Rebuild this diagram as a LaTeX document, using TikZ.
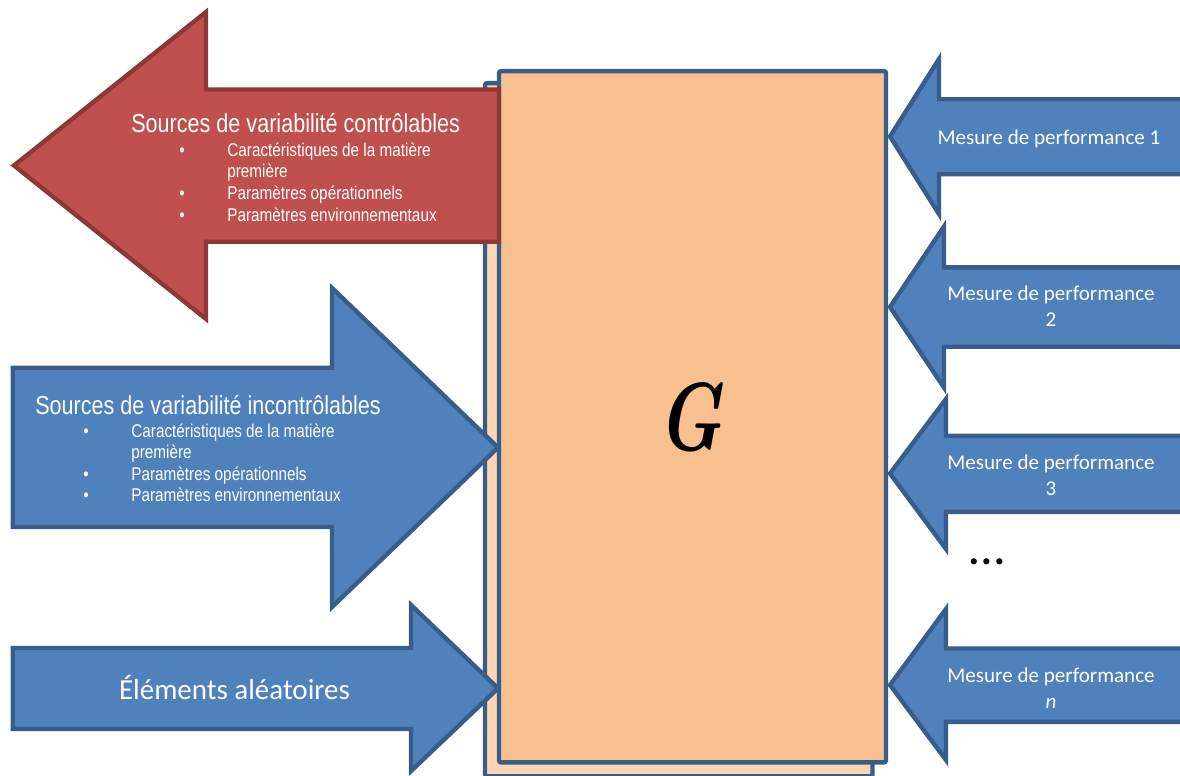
\documentclass[tikz,border=0pt]{standalone}
\usepackage{fontspec}
\newfontfamily\narrowsans[FakeStretch=0.83]{Liberation Sans}
\newfontfamily\calibri{Carlito}

\definecolor{blueFill}{HTML}{4F81BD}
\definecolor{blueEdge}{HTML}{385D8A}
\definecolor{redFill}{HTML}{C0504D}
\definecolor{redEdge}{HTML}{8C3836}
\definecolor{peachFront}{HTML}{F9C08F}
\definecolor{peachBack}{HTML}{FCD5B5}

\tikzset{
  bluearrow/.style={fill=blueFill, draw=blueEdge, line width=2.5pt, line join=miter},
  redarrow/.style={fill=redFill, draw=redEdge, line width=2.5pt, line join=miter},
  boxshape/.style={draw=blueEdge, line width=2.5pt, rounded corners=1.2pt, inner sep=0pt},
  titletext/.style={text=white, inner sep=0pt, anchor=base west,
    font=\narrowsans\fontsize{14.8}{17}\selectfont},
  itemtext/.style={text=white, inner sep=0pt, anchor=base west,
    font=\narrowsans\fontsize{10.5}{12.1}\selectfont},
  itemmark/.style={text=white, inner sep=0pt, anchor=base,
    font=\narrowsans\fontsize{10.5}{12.1}\selectfont},
  measuretext/.style={text=white, inner sep=0pt, anchor=base,
    font=\calibri\fontsize{12}{14.7}\selectfont},
}

\begin{document}
\begin{tikzpicture}[x=0.02cm, y=-0.02cm]
\useasboundingbox (0,0) rectangle (1180,775);
\clip (0,0) rectangle (1180,775);

% the process block G, with its shadow copy behind it
\node[boxshape, fill=peachBack, minimum width=7.75cm, minimum height=13.87cm] (back) at (678.75,429.75) {};
\node[boxshape, fill=peachFront, minimum width=7.74cm, minimum height=13.83cm] (box) at (692.5,416.75) {};
\node[inner sep=0pt, anchor=base, font=\fontsize{55}{60}\selectfont\bfseries\itshape]
  (G) at (690,450.5) {\scalebox{0.75}[1]{G}};

% controllable sources: arrow leaving the block
\path[redarrow] (499,89.5) -- (206,89.5) -- (206,12) -- (14,165.5) -- (206,319)
  -- (206,241.7) -- (499,241.7) -- cycle;
\node[titletext] (ctitle) at (131,132.7) {Sources de variabilité contrôlables};
\node[itemmark] (cb1) at (182,156.7) {•};
\node[itemtext] (ci1) at (227,156.7) {Caractéristiques de la matière};
\node[itemtext] (ci1b) at (227,177.8) {première};
\node[itemmark] (cb2) at (182,199) {•};
\node[itemtext] (ci2) at (227,199) {Paramètres opérationnels};
\node[itemmark] (cb3) at (182,221) {•};
\node[itemtext] (ci3) at (227,221) {Paramètres environnementaux};

% uncontrollable sources: arrow entering the block
\path[bluearrow] (12.7,367.7) -- (332,367.7) -- (332,288) -- (498,447.5) -- (332,607)
  -- (332,527) -- (12.7,527) -- cycle;
\node[titletext] (utitle) at (35,414.3) {Sources de variabilité incontrôlables};
\node[itemmark] (ub1) at (86,437.3) {•};
\node[itemtext] (ui1) at (131,437.3) {Caractéristiques de la matière};
\node[itemtext] (ui1b) at (131,458.6) {première};
\node[itemmark] (ub2) at (86,480) {•};
\node[itemtext] (ui2) at (131,480) {Paramètres opérationnels};
\node[itemmark] (ub3) at (86,501.7) {•};
\node[itemtext] (ui3) at (131,501.7) {Paramètres environnementaux};

% random elements
\path[bluearrow] (12.7,648) -- (411,648) -- (411,605) -- (498,688.3) -- (411,771)
  -- (411,729) -- (12.7,729) -- cycle;
\node[text=white, inner sep=0pt, anchor=base, font=\calibri\fontsize{16.5}{20}\selectfont]
  (rand) at (234.5,699.3) {Éléments aléatoires};

% performance measures
\path[bluearrow] (1200,99.2) -- (939,99.2) -- (939,59) -- (890,136.5) -- (939,214)
  -- (939,174.2) -- (1200,174.2) -- cycle;
\node[measuretext] (m1) at (1049,144.3) {Mesure de performance 1};

\path[bluearrow] (1200,267.3) -- (944,267.3) -- (944,226.5) -- (890,307) -- (944,387.5)
  -- (944,346.7) -- (1200,346.7) -- cycle;
\node[measuretext] (m2) at (1051,300.7) {Mesure de performance};
\node[measuretext] (m2n) at (1051,326.7) {2};

\path[bluearrow] (1200,435.8) -- (946,435.8) -- (946,399) -- (890,473.5) -- (946,549)
  -- (946,511.8) -- (1200,511.8) -- cycle;
\node[measuretext] (m3) at (1051,469.3) {Mesure de performance};
\node[measuretext] (m3n) at (1051,495.3) {3};

\node[inner sep=0pt, anchor=base, font=\calibri\fontsize{29}{34}\selectfont] (dots) at (987,564) {…};

\path[bluearrow] (1200,648.5) -- (946,648.5) -- (946,609) -- (890,685) -- (946,760)
  -- (946,721.8) -- (1200,721.8) -- cycle;
\node[measuretext] (mn) at (1051,682.3) {Mesure de performance};
\node[measuretext] (mnn) at (1051,708.3) {\itshape n};
\end{tikzpicture}
\end{document}
